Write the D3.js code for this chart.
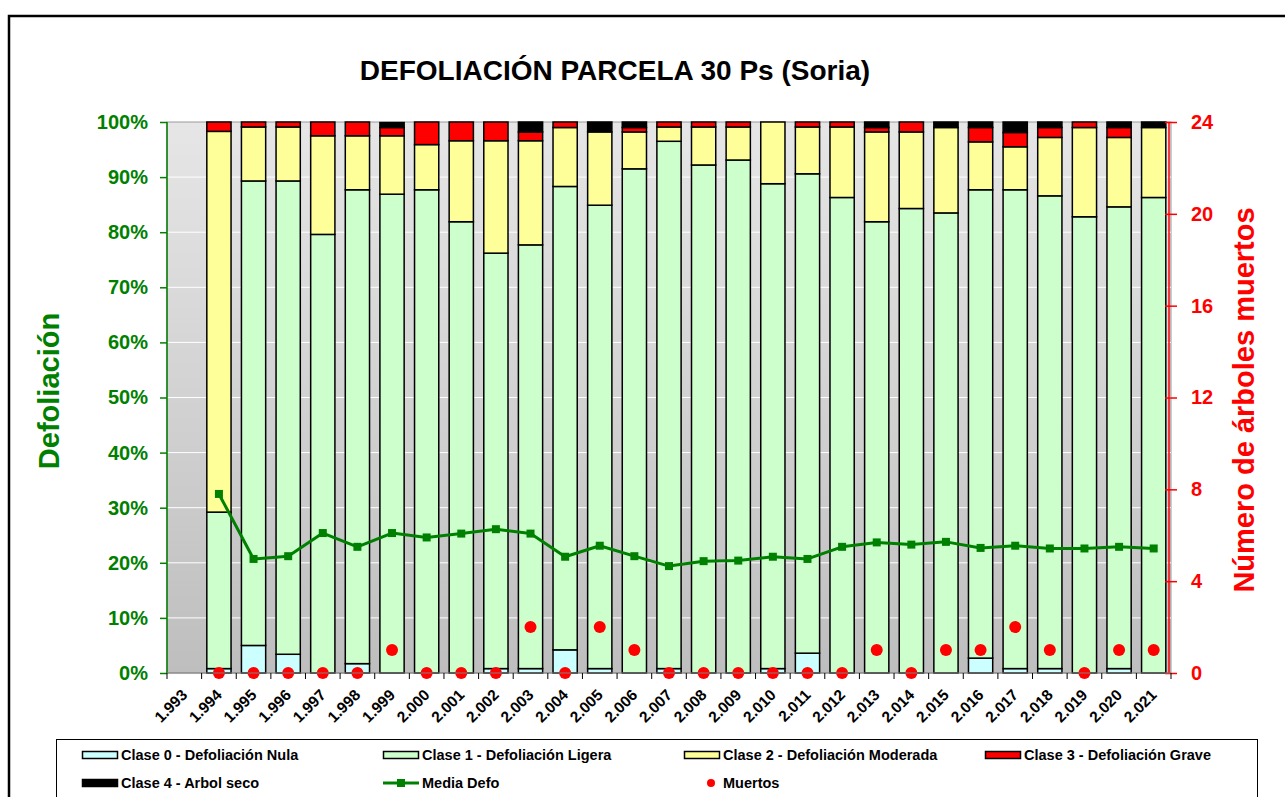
<!DOCTYPE html>
<html>
<head>
<meta charset="utf-8">
<script src="https://cdn.jsdelivr.net/npm/d3@7"></script>
<style>
  body { margin: 0; background: #fff; }
  text { font-family: "Liberation Sans", Arial, sans-serif; font-weight: bold; }
</style>
</head>
<body>
<svg id="chart" width="1285" height="797"></svg>
<script>
// data
let years = [1993, 1994, 1995, 1996, 1997, 1998, 1999, 2000, 2001, 2002, 2003, 2004, 2005, 2006,
    2007, 2008, 2009, 2010, 2011, 2012, 2013, 2014, 2015, 2016, 2017, 2018, 2019, 2020, 2021];
let clase0 = [null, 0.8, 5.0, 3.4, 0, 1.7, 0, 0, 0, 0.8, 0.8, 4.2, 0.8, 0, 0.8, 0, 0, 0.8, 3.6, 0, 0, 0, 0, 2.7, 0.8, 0.8, 0, 0.8, 0];
let clase1 = [null, 28.4, 84.3, 85.9, 79.6, 86.0, 86.9, 87.7, 81.9, 75.4, 76.9, 84.1, 84.1, 91.5, 95.7, 92.2, 93.1, 88.0, 87.0, 86.3, 81.9, 84.3, 83.5, 85.0, 86.9, 85.8, 82.8, 83.8, 86.3];
let clase2 = [null, 69.1, 9.8, 9.8, 17.9, 9.8, 10.6, 8.2, 14.7, 20.4, 18.9, 10.7, 13.3, 6.7, 2.6, 6.9, 6.0, 11.2, 8.5, 12.8, 16.3, 13.9, 15.5, 8.7, 7.8, 10.6, 16.2, 12.6, 12.7];
let clase3 = [null, 1.7, 0.9, 0.9, 2.5, 2.5, 1.5, 4.1, 3.4, 3.4, 1.6, 1.0, 0, 0.8, 0.9, 0.9, 0.9, 0, 0.9, 0.9, 0.8, 1.8, 0, 2.6, 2.6, 1.8, 1.0, 1.8, 0];
let clase4 = [null, 0, 0, 0, 0, 0, 0.9, 0, 0, 0, 1.8, 0, 1.8, 1.0, 0, 0, 0, 0, 0, 0, 1.0, 0, 1.0, 1.0, 1.9, 1.0, 0, 1.0, 1.0];
let mediaDefo = [null, 32.5, 20.7, 21.2, 25.4, 22.9, 25.4, 24.6, 25.3, 26.1, 25.3, 21.1, 23.1, 21.2, 19.4, 20.3, 20.4, 21.1, 20.7, 22.9, 23.7, 23.3, 23.8, 22.7, 23.1, 22.6, 22.6, 22.9, 22.6];
let muertos = [null, 0, 0, 0, 0, 0, 1, 0, 0, 0, 2, 0, 2, 1, 0, 0, 0, 0, 0, 0, 1, 0, 1, 1, 2, 1, 0, 1, 1];
let pctTicks = [0, 10, 20, 30, 40, 50, 60, 70, 80, 90, 100];
let deadTicks = [0, 4, 8, 12, 16, 20, 24];

let seriesKeys = ["c0", "c1", "c2", "c3", "c4"];
let seriesNames = ["Clase 0 - Defoliación Nula", "Clase 1 - Defoliación Ligera", "Clase 2 - Defoliación Moderada",
    "Clase 3 - Defoliación Grave", "Clase 4 - Arbol seco"];
let seriesColors = ["#ccffff", "#ccffcc", "#ffff99", "#ff0000", "#000000"];

let svg = d3.select("#chart");
let plotLeft = 167, plotRight = 1171, plotTop = 122, plotBottom = 673;

let esLocale = d3.formatLocale({decimal: ",", thousands: ".", grouping: [3], currency: ["", "€"]});
let yearFormat = esLocale.format(",");

let x = d3.scaleBand().domain(years).range([plotLeft, plotRight]).paddingInner(0.3).paddingOuter(0.15);
let y = d3.scaleLinear().domain([0, 100]).range([plotBottom, plotTop]);
let y2 = d3.scaleLinear().domain([0, 24]).range([plotBottom, plotTop]);

// outer frame
svg.append("rect").attr("x", 9).attr("y", 16).attr("width", 1300).attr("height", 820)
    .attr("fill", "none").attr("stroke", "#000").attr("stroke-width", 2.5);

// title
svg.append("text").attr("x", 615).attr("y", 80).attr("text-anchor", "middle")
    .attr("font-size", 28).text("DEFOLIACIÓN PARCELA 30 Ps (Soria)");

// plot background
let defs = svg.append("defs");
let grad = defs.append("linearGradient").attr("id", "bg").attr("x1", "0%").attr("y1", "0%").attr("x2", "0%").attr("y2", "100%");
grad.append("stop").attr("offset", "0%").attr("stop-color", "#e6e6e6");
grad.append("stop").attr("offset", "100%").attr("stop-color", "#bebebe");

svg.append("rect").attr("x", plotLeft).attr("y", plotTop).attr("width", plotRight - plotLeft).attr("height", plotBottom - plotTop)
    .attr("fill", "url(#bg)").attr("stroke", "#999").attr("stroke-width", 1);

// white gridlines
svg.append("g").selectAll("line").data(pctTicks.slice(1, -1)).join("line")
    .attr("x1", plotLeft).attr("x2", plotRight)
    .attr("y1", d => y(d)).attr("y2", d => y(d))
    .attr("stroke", "#fff").attr("stroke-width", 1);

// stacked bars
let rows = years.map((yr, i) => ({year: yr, c0: clase0[i] || 0, c1: clase1[i] || 0, c2: clase2[i] || 0, c3: clase3[i] || 0, c4: clase4[i] || 0}));
let stacked = d3.stack().keys(seriesKeys)(rows);

svg.append("g").selectAll("g").data(stacked).join("g")
    .attr("fill", (d, i) => seriesColors[i])
    .selectAll("rect").data(d => d.filter(p => p[1] - p[0] > 0)).join("rect")
    .attr("x", d => x(d.data.year))
    .attr("width", x.bandwidth())
    .attr("y", d => y(d[1]))
    .attr("height", d => y(d[0]) - y(d[1]))
    .attr("stroke", "#000").attr("stroke-width", 1.5);

// media line
let lineData = years.map((yr, i) => ({year: yr, v: mediaDefo[i]})).filter(d => d.v !== null);
let line = d3.line().x(d => x(d.year) + x.bandwidth() / 2).y(d => y(d.v));
svg.append("path").datum(lineData).attr("d", line)
    .attr("fill", "none").attr("stroke", "#008000").attr("stroke-width", 3).attr("stroke-linejoin", "round");
svg.append("g").selectAll("rect").data(lineData).join("rect")
    .attr("x", d => x(d.year) + x.bandwidth() / 2 - 4)
    .attr("y", d => y(d.v) - 4)
    .attr("width", 8).attr("height", 8).attr("fill", "#008000");

// dead trees
let deadData = years.map((yr, i) => ({year: yr, v: muertos[i]})).filter(d => d.v !== null);
svg.append("g").selectAll("circle").data(deadData).join("circle")
    .attr("cx", d => x(d.year) + x.bandwidth() / 2)
    .attr("cy", d => y2(d.v))
    .attr("r", 6).attr("fill", "#ff0000");

// left axis
let yAxis = d3.axisLeft(y).tickValues(pctTicks).tickFormat(d => d + "%").tickSize(7).tickPadding(12);
let gy = svg.append("g").attr("transform", `translate(${plotLeft},0)`).call(yAxis);
gy.selectAll("path, line").attr("stroke", "#008000").attr("stroke-width", 1.5);
gy.selectAll("text").attr("fill", "#008000").attr("font-size", 20)
    .attr("font-family", "'Liberation Sans', Arial, sans-serif").attr("font-weight", "bold");
gy.select(".domain").attr("d", `M0,${plotTop}V${plotBottom}`);

// right axis
let y2Axis = d3.axisRight(y2).tickValues(deadTicks).tickSize(6).tickPadding(16);
let gy2 = svg.append("g").attr("transform", `translate(${plotRight - 2},0)`).call(y2Axis);
gy2.selectAll("path, line").attr("stroke", "#ff0000").attr("stroke-width", 1.5);
gy2.selectAll(".tick line").attr("x1", -4).attr("x2", 8);
gy2.select(".domain").attr("d", `M0,${plotTop}V${plotBottom}`);
gy2.selectAll("text").attr("fill", "#ff0000").attr("font-size", 20)
    .attr("font-family", "'Liberation Sans', Arial, sans-serif").attr("font-weight", "bold");

// x axis
svg.append("line").attr("x1", plotLeft).attr("x2", plotRight).attr("y1", plotBottom).attr("y2", plotBottom)
    .attr("stroke", "#808080").attr("stroke-width", 1);
let step = x.step();
svg.append("g").selectAll("line").data(years.concat([null])).join("line")
    .attr("x1", (d, i) => plotLeft + i * step).attr("x2", (d, i) => plotLeft + i * step)
    .attr("y1", plotBottom).attr("y2", plotBottom + 6)
    .attr("stroke", "#000").attr("stroke-width", 1);
svg.append("g").selectAll("text").data(years).join("text")
    .attr("transform", d => `translate(${x(d) + x.bandwidth() / 2 + 4},${plotBottom + 23}) rotate(-45)`)
    .attr("text-anchor", "end").attr("font-size", 15.5)
    .text(d => yearFormat(d));

// axis titles
svg.append("text").attr("transform", "translate(59,391) rotate(-90)").attr("text-anchor", "middle")
    .attr("font-size", 29).attr("fill", "#008000").text("Defoliación");
svg.append("text").attr("transform", "translate(1254,400) rotate(-90)").attr("text-anchor", "middle")
    .attr("font-size", 29).attr("fill", "#ff0000").text("Número de árboles muertos");

// legend
svg.append("rect").attr("x", 56.5).attr("y", 739.5).attr("width", 1201).attr("height", 80)
    .attr("fill", "#fff").attr("stroke", "#000").attr("stroke-width", 1);

let legendItems = seriesNames.map((n, i) => ({name: n, type: "bar", color: seriesColors[i]}))
    .concat([{name: "Media Defo", type: "line", color: "#008000"}, {name: "Muertos", type: "dot", color: "#ff0000"}]);
let colX = [82, 383, 684, 985];
let rowY = [755, 783];

let items = svg.append("g").selectAll("g").data(legendItems).join("g")
    .attr("transform", (d, i) => `translate(${colX[i % 4]},${rowY[Math.floor(i / 4)]})`);

items.filter(d => d.type === "bar").append("rect")
    .attr("x", 0.5).attr("y", -3.5).attr("width", 35).attr("height", 7)
    .attr("fill", d => d.color).attr("stroke", "#000").attr("stroke-width", 1.5);
items.filter(d => d.type === "line").append("line")
    .attr("x1", 0).attr("x2", 36).attr("y1", 0).attr("y2", 0)
    .attr("stroke", d => d.color).attr("stroke-width", 3);
items.filter(d => d.type === "line").append("rect")
    .attr("x", 14).attr("y", -4).attr("width", 8).attr("height", 8).attr("fill", d => d.color);
items.filter(d => d.type === "dot").append("circle")
    .attr("cx", 27).attr("cy", 0).attr("r", 4).attr("fill", d => d.color);
items.append("text").attr("x", 39).attr("y", 5)
    .attr("font-size", 14.5).text(d => d.name);
</script>
</body>
</html>
